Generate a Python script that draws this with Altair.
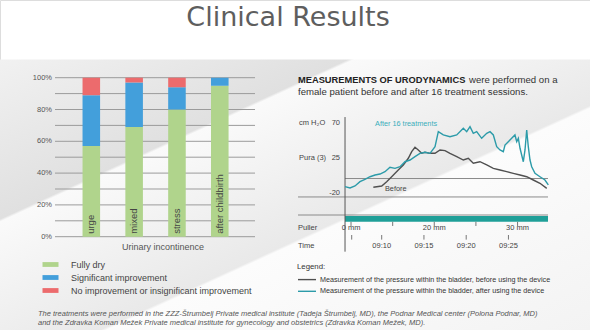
import altair as alt
import pandas as pd

FONT = "Liberation Sans"

# ---------------- data: stacked bars (left panel) ----------------
categories = ["urge", "mixed", "stress", "after childbirth"]
outcomes = ["Fully dry", "Significant improvement",
            "No improvement or insignificant improvement"]
fully_dry = [57, 69, 80, 95]
significant_improvement = [32, 28, 14, 5]
no_improvement = [11, 3, 6, 0]
outcome_colors = ["#b0d48c", "#439fdb", "#ec6b6d"]
pct_ticks = [0, 20, 40, 60, 80, 100]
pct_grid = [0, 10, 20, 30, 40, 50, 60, 70, 80, 90, 100]

# ---------------- data: urodynamics (right panel) ----------------
after_minutes = [5.66, 6.25, 6.84, 7.43, 8.02, 8.62, 9.21, 9.80, 10.39, 10.98, 11.57,
                 12.17, 12.76, 13.35, 13.94, 14.53, 15.12, 15.72, 16.31, 16.70, 17.29,
                 18.08, 18.88, 19.66, 20.06, 20.45, 20.84, 21.24, 21.83, 22.43, 22.82,
                 23.21, 23.61, 24.00, 24.39, 24.59, 24.98, 25.38, 25.77, 25.98, 26.17,
                 26.37, 26.76, 26.96, 27.16, 27.35, 27.55, 27.75, 28.14, 28.73, 29.32, 29.72]
after_cmh2o = [-11.5, -13.2, -10.6, -5.1, -2.0, 1.3, 3.5, 4.8, 7.8, 13.4, 12.1,
               14.2, 20.6, 22.8, 27.1, 31.4, 32.7, 31.4, 39.9, 59.2, 55.0,
               52.8, 55.0, 63.6, 59.2, 65.6, 57.1, 59.2, 50.7, 57.1, 59.2,
               55.0, 39.9, 35.7, 33.5, 42.1, 46.3, 50.7, 55.0, 46.3, 50.7,
               37.9, 20.6, 35.7, 61.4, 39.9, 22.8, 14.2, 5.7, 1.3, -2.9, -9.3]
before_minutes = [9.01, 10.0, 10.59, 11.18, 11.96, 12.56, 13.15, 13.55, 13.94, 14.33,
                  14.73, 15.12, 15.72, 16.31, 16.90, 17.49, 18.08, 18.88, 19.66, 20.25,
                  20.84, 21.63, 22.43, 23.21, 24.0, 24.79, 25.57, 26.37, 27.16, 27.94,
                  28.73, 29.53]
before_cmh2o = [-12.3, -10.6, -5.1, 1.3, 10.0, 16.4, 25.0, 33.5, 39.1, 35.7,
                31.4, 32.7, 31.4, 31.4, 35.7, 34.8, 31.4, 27.1, 22.8, 25.0,
                18.6, 20.6, 16.4, 12.1, 10.0, 7.8, 5.7, 3.5, 1.3, -2.9,
                -7.1, -13.6]
series_labels = [
    "Measurement of the pressure within the bladder, before using the device",
    "Measurement of the pressure within the bladder, after using the device",
]
series_colors = ["#505050", "#2c9ba9"]
pressure_ticks = [70, 25, -20]
pressure_tick_labels = ["70", "25", "-20"]
time_tick_minutes = [6.45, 10, 15, 20, 25]
time_tick_labels = ["", "09:10", "09:15", "09:20", "09:25"]
puller_tick_minutes = [6.37, 11.30, 16.22, 21.15, 26.08]
puller_tick_labels = ["0 mm", "", "20 mm", "", "30 mm"]
footnote = [
    "The treatments were performed in the ZZZ-Štrumbelj Private medical institute (Tadeja Štrumbelj, MD), the Podnar Medical center (Polona Podnar, MD)",
    "and the Zdravka Koman Mežek Private medical institute for gynecology and obstetrics (Zdravka Koman Mežek, MD).",
]

# ---------------- scales ----------------
bar_x = alt.Scale(domain=categories, range=[69.9, 241.2], paddingInner=0.59, paddingOuter=0.295)
bar_y = alt.Scale(domain=[0, 100], range=[236.7, 77.7], nice=False, zero=False)
time_x = alt.Scale(domain=[5, 30], range=[339.45, 550.7], nice=False, zero=False)
pres_y = alt.Scale(domain=[-100, 80], range=[255.55, 115.5], nice=False, zero=False)

one = pd.DataFrame({"a": [0]})
layers = []

# background
grad = alt.Gradient(
    gradient="linear", x1=0, y1=0, x2=1, y2=1,
    stops=[alt.GradientStop(offset=0, color="#f1f1f1"),
           alt.GradientStop(offset=0.295, color="#e0e0e0"),
           alt.GradientStop(offset=0.30, color="#fafafa"),
           alt.GradientStop(offset=0.585, color="#e9e9e9"),
           alt.GradientStop(offset=0.59, color="#fcfcfc"),
           alt.GradientStop(offset=1, color="#f3f3f3")])
layers.append(alt.Chart(one).mark_rect(color=grad).encode(
    x=alt.value(0), x2=alt.value(590), y=alt.value(59.5), y2=alt.value(330)))

# title
layers.append(alt.Chart(one).mark_text(
    text="Clinical Results", font="DejaVu Sans", fontSize=27, color="#5e5e5e",
    align="center", baseline="alphabetic").encode(x=alt.value(288), y=alt.value(26)))

# ---- left panel ----
grid_df = pd.DataFrame({"p": pct_grid})
layers.append(alt.Chart(grid_df).mark_rule(color="#9b9b9b", strokeWidth=1).encode(
    y=alt.Y("p:Q", scale=bar_y, axis=None), x=alt.value(55), x2=alt.value(255)))
tick_df = pd.DataFrame({"p": pct_ticks, "t": [f"{v}%" for v in pct_ticks]})
layers.append(alt.Chart(tick_df).mark_text(
    font=FONT, fontSize=7.5, color="#555555", align="right", baseline="middle").encode(
    y=alt.Y("p:Q", scale=bar_y, axis=None), x=alt.value(52), text="t:N"))

rows = []
for i, c in enumerate(categories):
    for k, (o, vals) in enumerate(zip(outcomes, [fully_dry, significant_improvement, no_improvement])):
        rows.append({"category": c, "outcome": o, "value": vals[i], "ord": k})
bar_df = pd.DataFrame(rows)
layers.append(alt.Chart(bar_df).mark_bar().encode(
    x=alt.X("category:N", scale=bar_x, axis=None),
    y=alt.Y("value:Q", stack="zero", scale=bar_y, axis=None),
    color=alt.Color("outcome:N", title=None,
                    scale=alt.Scale(domain=outcomes, range=outcome_colors),
                    legend=alt.Legend(orient="none", legendX=42, legendY=260,
                                      labelFont=FONT, labelFontSize=9, labelColor="#444444",
                                      labelLimit=400, labelOffset=20,
                                      symbolType="M-1,-0.6H3V0.6H-1Z", symbolSize=64,
                                      symbolStrokeWidth=0, rowPadding=3, padding=0)),
    order=alt.Order("ord:Q", sort="ascending")))

cat_df = pd.DataFrame({"category": categories, "p": [1.8] * len(categories)})
layers.append(alt.Chart(cat_df).mark_text(
    font=FONT, fontSize=9.5, color="#444444", angle=270, align="left", baseline="middle").encode(
    x=alt.X("category:N", scale=bar_x, axis=None),
    y=alt.Y("p:Q", scale=bar_y, axis=None), text="category:N"))
layers.append(alt.Chart(one).mark_text(
    text="Urinary incontinence", font=FONT, fontSize=9, color="#555555",
    align="center", baseline="middle").encode(x=alt.value(163), y=alt.value(247)))

# ---- right panel ----
layers.append(alt.Chart(one).mark_text(
    text="MEASUREMENTS OF URODYNAMICS", font=FONT, fontSize=9.3, fontWeight="bold",
    color="#222222", align="left", baseline="middle").encode(x=alt.value(298), y=alt.value(80)))
layers.append(alt.Chart(one).mark_text(
    text="were performed on a", font=FONT, fontSize=9.6, color="#333333",
    align="left", baseline="middle").encode(x=alt.value(469), y=alt.value(80)))
layers.append(alt.Chart(one).mark_text(
    text="female patient before and after 16 treatment sessions.", font=FONT, fontSize=9.6,
    color="#333333", align="left", baseline="middle").encode(x=alt.value(298), y=alt.value(92)))

hr_df = pd.DataFrame({"v": [-24.7, -47.9]})
layers.append(alt.Chart(hr_df).mark_rule(color="#8a8a8a", strokeWidth=1).encode(
    y=alt.Y("v:Q", scale=pres_y, axis=None), x=alt.value(298), x2=alt.value(548)))
base_df = pd.DataFrame({"v": [-1.0], "m0": [5.66], "m1": [29.68]})
layers.append(alt.Chart(base_df).mark_rule(color="#8a8a8a", strokeWidth=1).encode(
    y=alt.Y("v:Q", scale=pres_y, axis=None),
    x=alt.X("m0:Q", scale=time_x, axis=None), x2="m1:Q"))
puller_bar = pd.DataFrame({"m0": [5.66], "m1": [29.68], "v0": [-49.2], "v1": [-56.6]})
layers.append(alt.Chart(puller_bar).mark_rect(color="#1f9f98").encode(
    x=alt.X("m0:Q", scale=time_x, axis=None), x2="m1:Q",
    y=alt.Y("v0:Q", scale=pres_y, axis=None), y2="v1:Q"))
axis_df = pd.DataFrame({"m": [5.66], "v0": [78], "v1": [-95]})
layers.append(alt.Chart(axis_df).mark_rule(color="#555555", strokeWidth=1).encode(
    x=alt.X("m:Q", scale=time_x, axis=None),
    y=alt.Y("v0:Q", scale=pres_y, axis=None), y2="v1:Q"))

pt_df = pd.DataFrame({"v": pressure_ticks, "t": pressure_tick_labels})
layers.append(alt.Chart(pt_df).mark_text(
    font=FONT, fontSize=7.5, color="#444444", align="right", baseline="middle").encode(
    y=alt.Y("v:Q", scale=pres_y, axis=None), x=alt.value(340), text="t:N"))
side_df = pd.DataFrame({"v": [70, 25], "t": ["cm H₂O", "Pura (3)"]})
layers.append(alt.Chart(side_df).mark_text(
    font=FONT, fontSize=7.5, color="#444444", align="left", baseline="middle").encode(
    y=alt.Y("v:Q", scale=pres_y, axis=None), x=alt.value(299), text="t:N"))

line_df = pd.concat([
    pd.DataFrame({"series": series_labels[0], "minute": before_minutes, "cmh2o": before_cmh2o}),
    pd.DataFrame({"series": series_labels[1], "minute": after_minutes, "cmh2o": after_cmh2o}),
])
layers.append(alt.Chart(line_df).mark_line(strokeWidth=1.4).encode(
    x=alt.X("minute:Q", scale=time_x, axis=None),
    y=alt.Y("cmh2o:Q", scale=pres_y, axis=None),
    color=alt.Color("series:N", title="Legend:",
                    scale=alt.Scale(domain=series_labels, range=series_colors),
                    legend=alt.Legend(orient="none", legendX=297, legendY=262.5,
                                      titleFont=FONT, titleFontSize=7.8, titleFontWeight="normal",
                                      titleColor="#333333", titlePadding=3.8,
                                      labelFont=FONT, labelFontSize=7.2, labelColor="#333333",
                                      labelLimit=400, labelOffset=12,
                                      symbolType="M-1,0H3", symbolSize=81,
                                      symbolStrokeWidth=1.4, rowPadding=2.7, padding=0))))

ann_df = pd.DataFrame({"m": [9.21, 10.39], "v": [69, -15],
                       "t": ["After 16 treatments", "Before"], "c": ["a", "b"]})
layers.append(alt.Chart(ann_df).mark_text(
    font=FONT, fontSize=7.3, align="left", baseline="middle").encode(
    x=alt.X("m:Q", scale=time_x, axis=None), y=alt.Y("v:Q", scale=pres_y, axis=None),
    text="t:N",
    color=alt.Color("c:N", scale=alt.Scale(domain=["a", "b"], range=["#3aaebb", "#444444"]),
                    legend=None)))

ptick_df = pd.DataFrame({"m": puller_tick_minutes, "v0": [-56.6] * 5, "v1": [-62.0] * 5,
                         "lv": [-65.0] * 5, "t": puller_tick_labels})
layers.append(alt.Chart(ptick_df).mark_rule(color="#777777", strokeWidth=1).encode(
    x=alt.X("m:Q", scale=time_x, axis=None),
    y=alt.Y("v0:Q", scale=pres_y, axis=None), y2="v1:Q"))
layers.append(alt.Chart(ptick_df).mark_text(
    font=FONT, fontSize=7.5, color="#444444", align="center", baseline="middle").encode(
    x=alt.X("m:Q", scale=time_x, axis=None),
    y=alt.Y("lv:Q", scale=pres_y, axis=None), text="t:N"))
ttick_df = pd.DataFrame({"m": time_tick_minutes, "v0": [-73.6] * 5, "v1": [-79.5] * 5,
                         "lv": [-87.7] * 5, "t": time_tick_labels})
layers.append(alt.Chart(ttick_df).mark_rule(color="#777777", strokeWidth=1).encode(
    x=alt.X("m:Q", scale=time_x, axis=None),
    y=alt.Y("v0:Q", scale=pres_y, axis=None), y2="v1:Q"))
layers.append(alt.Chart(ttick_df).mark_text(
    font=FONT, fontSize=7.5, color="#444444", align="center", baseline="middle").encode(
    x=alt.X("m:Q", scale=time_x, axis=None),
    y=alt.Y("lv:Q", scale=pres_y, axis=None), text="t:N"))
row_df = pd.DataFrame({"v": [-65.0, -87.7], "t": ["Puller", "Time"]})
layers.append(alt.Chart(row_df).mark_text(
    font=FONT, fontSize=7.5, color="#444444", align="left", baseline="middle").encode(
    y=alt.Y("v:Q", scale=pres_y, axis=None), x=alt.value(298), text="t:N"))

# footnote
layers.append(alt.Chart(one).mark_text(
    text=footnote, font=FONT, fontSize=7.5, fontStyle="italic", color="#555555",
    align="left", baseline="top", lineHeight=9.3).encode(x=alt.value(38), y=alt.value(309.5)))

chart = alt.layer(*layers).resolve_scale(
    x="independent", y="independent", color="independent"
).resolve_legend(color="independent").properties(
    width=590, height=330, autosize=alt.AutoSizeParams(type="none"), padding=0
).configure_view(stroke=None).configure(background="white")

chart.save("out.html", embed_options={"renderer": "svg", "actions": False})
